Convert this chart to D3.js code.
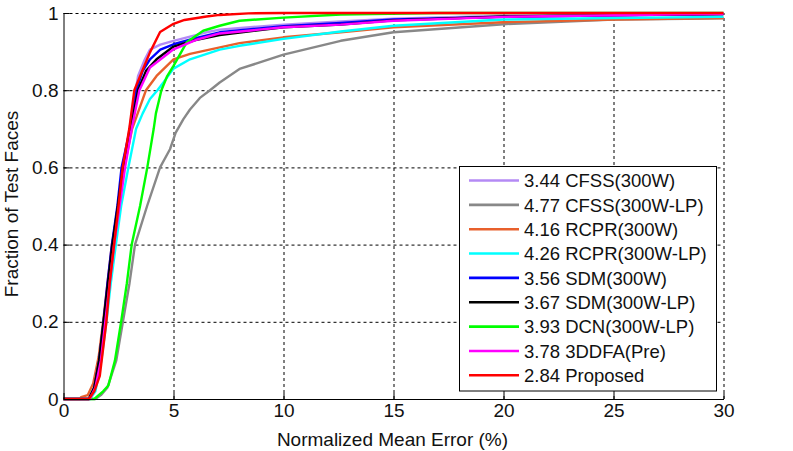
<!DOCTYPE html>
<html>
<head>
<meta charset="utf-8">
<script src="https://cdn.jsdelivr.net/npm/d3@7"></script>
<style>
  body { margin: 0; background: #fff; }
  svg { display: block; font-family: "Liberation Sans", Arial, sans-serif; }
</style>
</head>
<body>
<svg id="chart" width="793" height="451"></svg>
<script>
// CED curves, [error %, fraction]
const cfss300w = [[0,0],[1.2,0],[1.45,0.03],[1.7,0.1],[1.88,0.2],[2.05,0.3],[2.25,0.4],[2.47,0.5],[2.7,0.6],[3.0,0.7],[3.28,0.8],[3.39,0.837],[3.7,0.88],[3.93,0.905],[4.4,0.918],[5,0.928],[6.5,0.95],[7.1,0.957],[10,0.97],[12.6,0.978],[15,0.985],[20,0.993],[25,0.996],[30,0.998]];
const cfss300wlp = [[0,0],[1.45,0],[1.7,0.01],[2.0,0.03],[2.4,0.1],[2.7,0.2],[3.0,0.3],[3.25,0.4],[3.8,0.5],[4.39,0.6],[4.84,0.647],[5.1,0.69],[5.45,0.725],[5.75,0.75],[6.2,0.78],[6.66,0.8],[7.1,0.82],[8,0.855],[10,0.892],[12.6,0.928],[15,0.95],[20,0.971],[25,0.983],[28.3,0.985],[30,0.986]];
const rcpr300w = [[0,0],[0.75,0],[0.8,0.005],[1.1,0.01],[1.35,0.04],[1.6,0.11],[1.8,0.2],[2.0,0.3],[2.2,0.4],[2.5,0.5],[2.76,0.6],[3.12,0.7],[3.75,0.8],[4.23,0.837],[5,0.88],[5.75,0.894],[8,0.922],[10,0.937],[12.6,0.95],[15,0.963],[20,0.976],[25,0.983],[30,0.987]];
const rcpr300wlp = [[0,0],[1.2,0],[1.45,0.02],[1.72,0.1],[1.95,0.2],[2.15,0.3],[2.38,0.4],[2.62,0.5],[2.95,0.6],[3.3,0.7],[3.6,0.74],[3.93,0.777],[4.27,0.8],[4.54,0.82],[5,0.856],[5.75,0.88],[7.1,0.905],[8,0.915],[10,0.933],[12.6,0.952],[15,0.967],[20,0.983],[25,0.987],[30,0.99]];
const sdm300w = [[0,0],[1.15,0],[1.4,0.03],[1.62,0.1],[1.82,0.2],[2.0,0.3],[2.2,0.4],[2.45,0.5],[2.64,0.6],[3.03,0.7],[3.31,0.8],[3.6,0.85],[3.93,0.88],[4.4,0.905],[5,0.919],[6,0.935],[7.1,0.95],[10,0.966],[12.6,0.974],[15,0.983],[20,0.99],[25,0.994],[30,0.997]];
const sdm300wlp = [[0,0],[1.15,0],[1.4,0.03],[1.62,0.1],[1.82,0.2],[2.02,0.3],[2.22,0.4],[2.47,0.5],[2.7,0.6],[3.06,0.7],[3.39,0.8],[3.75,0.85],[4.23,0.88],[5,0.913],[6,0.93],[7.1,0.943],[10,0.963],[12.6,0.97],[15,0.981],[20,0.991],[25,0.995],[30,0.997]];
const dcn300wlp = [[0,0],[1.4,0],[1.6,0.01],[1.8,0.02],[2.04,0.035],[2.34,0.1],[2.62,0.2],[2.88,0.3],[3.1,0.4],[3.48,0.5],[3.81,0.6],[4.1,0.7],[4.2,0.74],[4.45,0.8],[4.7,0.835],[5,0.863],[5.6,0.924],[6.35,0.954],[7.1,0.967],[8,0.98],[10,0.988],[12.6,0.996],[17,1],[30,1]];
const ddfaPre = [[0,0],[1.2,0],[1.45,0.03],[1.7,0.1],[1.9,0.2],[2.1,0.3],[2.3,0.4],[2.55,0.5],[2.8,0.6],[3.1,0.7],[3.45,0.8],[3.93,0.859],[5,0.906],[6,0.93],[7.1,0.947],[10,0.963],[12.6,0.97],[15,0.98],[20,0.99],[25,0.994],[30,0.998]];
const proposed = [[0,0],[1.15,0],[1.4,0.02],[1.65,0.06],[1.8,0.13],[1.95,0.2],[2.1,0.3],[2.3,0.4],[2.5,0.5],[2.69,0.6],[2.99,0.7],[3.22,0.8],[3.55,0.846],[3.93,0.898],[4.39,0.951],[5,0.972],[5.5,0.982],[6.5,0.991],[7.1,0.995],[8.4,0.999],[10,1],[30,1]];

const seriesNames = ["3.44 CFSS(300W)", "4.77 CFSS(300W-LP)", "4.16 RCPR(300W)", "4.26 RCPR(300W-LP)",
  "3.56 SDM(300W)", "3.67 SDM(300W-LP)", "3.93 DCN(300W-LP)", "3.78 3DDFA(Pre)", "2.84 Proposed"];
const seriesColors = ["#b48af5", "#888888", "#e8602c", "#00ffff", "#0000ff", "#000000", "#00ff00", "#ff00ff", "#ff0000"];
const seriesData = [cfss300w, cfss300wlp, rcpr300w, rcpr300wlp, sdm300w, sdm300wlp, dcn300wlp, ddfaPre, proposed];

const xTicks = [0, 5, 10, 15, 20, 25, 30];
const yTicks = [0, 0.2, 0.4, 0.6, 0.8, 1];

const plotLeft = 63.5, plotRight = 723.5, plotTop = 13, plotBottom = 399;

const svg = d3.select("#chart");

const xScale = d3.scaleLinear().domain([0, 30]).range([plotLeft, plotRight]);
const yScale = d3.scaleLinear().domain([0, 1]).range([plotBottom, plotTop]);

// grid
svg.append("g")
  .attr("transform", `translate(0,${plotBottom})`)
  .call(d3.axisBottom(xScale).tickValues(xTicks.slice(1)).tickSize(-(plotBottom - plotTop)).tickFormat(""))
  .call(g => g.select(".domain").remove())
  .selectAll("line")
  .attr("stroke", "#000")
  .attr("stroke-dasharray", "3,3");

svg.append("g")
  .attr("transform", `translate(${plotLeft},0)`)
  .call(d3.axisLeft(yScale).tickValues(yTicks.slice(1)).tickSize(-(plotRight - plotLeft)).tickFormat(""))
  .call(g => g.select(".domain").remove())
  .selectAll("line")
  .attr("stroke", "#000")
  .attr("stroke-dasharray", "3,3");

// curves
const line = d3.line()
  .x(d => xScale(d[0]))
  .y(d => yScale(d[1]));

svg.append("g")
  .selectAll("path")
  .data(seriesData)
  .join("path")
  .attr("d", line)
  .attr("fill", "none")
  .attr("stroke", (d, i) => seriesColors[i])
  .attr("stroke-width", 2.4)
  .attr("stroke-linejoin", "round");

// legend
const legend = svg.append("g");
legend.append("rect")
  .attr("x", 459.5)
  .attr("y", 166.5)
  .attr("width", 257)
  .attr("height", 224.5)
  .attr("fill", "#fff")
  .attr("stroke", "#000")
  .attr("stroke-width", 1);

const items = legend.selectAll("g.item")
  .data(seriesNames)
  .join("g")
  .attr("class", "item")
  .attr("transform", (d, i) => `translate(0,${180.5 + i * 24.35})`);

items.append("line")
  .attr("x1", 469)
  .attr("x2", 519)
  .attr("stroke", (d, i) => seriesColors[i])
  .attr("stroke-width", 2.6);

items.append("text")
  .attr("x", 524)
  .attr("dy", "0.36em")
  .attr("font-size", 18.5)
  .attr("fill", "#111")
  .text(d => d);

// axes with inward ticks
const xAxis = svg.append("g")
  .attr("transform", `translate(0,${plotBottom})`)
  .call(d3.axisBottom(xScale).tickValues(xTicks).tickSize(-6).tickSizeOuter(0).tickPadding(5).tickFormat(d3.format("d")));

const yAxis = svg.append("g")
  .attr("transform", `translate(${plotLeft},0)`)
  .call(d3.axisLeft(yScale).tickValues(yTicks).tickSize(-6).tickSizeOuter(0).tickPadding(5).tickFormat(d => d === 0 || d === 1 ? d3.format("d")(d) : d3.format(".1f")(d)));

[xAxis, yAxis].forEach(a => {
  a.attr("font-family", null).attr("font-size", null);
  a.selectAll("text").attr("font-size", 19).attr("fill", "#111");
  a.select(".domain").attr("stroke", "#000");
  a.selectAll(".tick line").attr("stroke", "#000");
});

svg.append("text")
  .attr("x", 392.5)
  .attr("y", 446)
  .attr("text-anchor", "middle")
  .attr("font-size", 19)
  .attr("fill", "#111")
  .text("Normalized Mean Error (%)");

svg.append("text")
  .attr("transform", "translate(18,204) rotate(-90)")
  .attr("text-anchor", "middle")
  .attr("font-size", 19)
  .attr("fill", "#111")
  .text("Fraction of Test Faces");
</script>
</body>
</html>
